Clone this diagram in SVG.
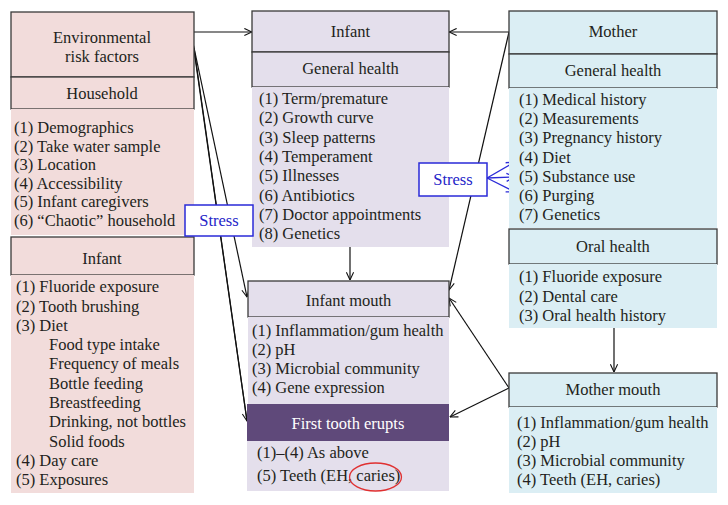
<svg xmlns="http://www.w3.org/2000/svg" width="728" height="505" viewBox="0 0 728 505">
<defs>
<marker id="ah" viewBox="0 0 10 10" refX="9.5" refY="5" markerWidth="9" markerHeight="9" markerUnits="userSpaceOnUse" orient="auto"><path d="M1,1 L9.5,5 L1,9" fill="none" stroke="#111" stroke-width="1.2"/></marker>
<marker id="ahb" viewBox="0 0 10 10" refX="9.5" refY="5" markerWidth="10" markerHeight="10" markerUnits="userSpaceOnUse" orient="auto"><path d="M1,1 L9.5,5 L1,9" fill="none" stroke="#2a2ad8" stroke-width="1.3"/></marker>
<style>
text{font-size:16.5px;fill:#231f20}
.c{text-anchor:middle}
.hdr{stroke:#3a3a3a;stroke-width:1.3}
.pink{fill:#f2dcdb}
.lilac{fill:#e4dfec}
.blue{fill:#dbeef4}
.purple{fill:#5f497a}
.conn{stroke:#111;stroke-width:1.2;fill:none;marker-end:url(#ah)}
.plain{stroke:#111;stroke-width:1.2;fill:none}
.sconn{stroke:#2a2ad8;stroke-width:1.3;fill:none;marker-end:url(#ahb)}
.srect{fill:#fff;stroke:#2a2ad8;stroke-width:1.5}
.stxt{fill:#2525c8}
.white{fill:#fff}
</style>
</defs>
<g font-family="'Liberation Serif', 'DejaVu Serif', serif">
<g id="connectors">
<line class="conn" x1="194" y1="32" x2="252" y2="32"/>
<line class="conn" x1="509" y1="32" x2="449" y2="32"/>
<line class="conn" x1="509" y1="32" x2="449" y2="290"/>
<line class="conn" x1="350" y1="247" x2="350" y2="280"/>
<line class="conn" x1="614" y1="328" x2="614" y2="372"/>
<line class="conn" x1="509" y1="388" x2="449" y2="298"/>
<line class="conn" x1="509" y1="388" x2="450" y2="417"/>
<line class="conn" x1="193" y1="43" x2="247" y2="297"/>
<line class="conn" x1="193" y1="43" x2="247" y2="421"/>
<line class="plain" x1="194" y1="48" x2="247" y2="421"/>
<line class="sconn" x1="185" y1="221" x2="172" y2="221"/>
<line class="sconn" x1="487" y1="178" x2="515" y2="162"/>
<line class="sconn" x1="487" y1="178" x2="515" y2="177"/>
<line class="sconn" x1="487" y1="178" x2="515" y2="192"/>
</g>
<g id="env">
<rect class="pink hdr" x="11" y="12" width="183" height="65"/>
<text class="c" x="102" y="43">Environmental</text>
<text class="c" x="102" y="62">risk factors</text>
</g>
<g id="household">
<rect class="pink hdr" x="11" y="77" width="183" height="32"/>
<text class="c" x="102" y="99">Household</text>
<rect class="pink" x="11" y="109" width="183" height="126"/>
<text x="14" y="133">(1) Demographics</text>
<text x="14" y="151.6">(2) Take water sample</text>
<text x="14" y="170.2">(3) Location</text>
<text x="14" y="188.8">(4) Accessibility</text>
<text x="14" y="207.4">(5) Infant caregivers</text>
<text x="14" y="226">(6) “Chaotic” household</text>
</g>
<g id="infant-env">
<rect class="pink hdr" x="11" y="237" width="183" height="38"/>
<text class="c" x="102" y="264">Infant</text>
<rect class="pink" x="11" y="275" width="183" height="218"/>
<text x="16" y="292.3">(1) Fluoride exposure</text>
<text x="16" y="311.6">(2) Tooth brushing</text>
<text x="16" y="330.8">(3) Diet</text>
<text x="49" y="350.1">Food type intake</text>
<text x="49" y="369.4">Frequency of meals</text>
<text x="49" y="388.7">Bottle feeding</text>
<text x="49" y="407.9">Breastfeeding</text>
<text x="49" y="427.2">Drinking, not bottles</text>
<text x="49" y="446.5">Solid foods</text>
<text x="16" y="465.8">(4) Day care</text>
<text x="16" y="485">(5) Exposures</text>
</g>
<g id="infant">
<rect class="lilac hdr" x="252" y="11" width="197" height="41"/>
<text class="c" x="350.5" y="37">Infant</text>
<rect class="lilac hdr" x="252" y="52" width="197" height="35"/>
<text class="c" x="350.5" y="74">General health</text>
<rect class="lilac" x="252" y="87" width="197" height="160"/>
<text x="259" y="104">(1) Term/premature</text>
<text x="259" y="123.3">(2) Growth curve</text>
<text x="259" y="142.6">(3) Sleep patterns</text>
<text x="259" y="161.9">(4) Temperament</text>
<text x="259" y="181.2">(5) Illnesses</text>
<text x="259" y="200.5">(6) Antibiotics</text>
<text x="259" y="219.8">(7) Doctor appointments</text>
<text x="259" y="239.1">(8) Genetics</text>
</g>
<g id="infant-mouth">
<rect class="lilac hdr" x="248" y="281" width="201" height="36"/>
<text class="c" x="348.5" y="306">Infant mouth</text>
<rect class="lilac" x="248" y="317" width="201" height="87"/>
<text x="252" y="336">(1) Inflammation/gum health</text>
<text x="252" y="355">(2) pH</text>
<text x="252" y="374">(3) Microbial community</text>
<text x="252" y="393">(4) Gene expression</text>
</g>
<g id="first-tooth">
<rect class="purple" x="247" y="404" width="202" height="37"/>
<text class="c white" x="348" y="429">First tooth erupts</text>
<rect class="lilac" x="247" y="441" width="202" height="50"/>
<text x="257" y="458">(1)–(4) As above</text>
<text x="257" y="481">(5) Teeth (EH, caries)</text>
<ellipse cx="375.5" cy="477" rx="26" ry="14" fill="none" stroke="#e03030" stroke-width="1.3"/>
</g>
<g id="mother">
<rect class="blue hdr" x="509" y="11" width="208" height="43"/>
<text class="c" x="613" y="37">Mother</text>
<rect class="blue hdr" x="509" y="54" width="208" height="34"/>
<text class="c" x="613" y="76">General health</text>
<rect class="blue" x="509" y="88" width="208" height="140"/>
<text x="519" y="105">(1) Medical history</text>
<text x="519" y="124.2">(2) Measurements</text>
<text x="519" y="143.4">(3) Pregnancy history</text>
<text x="519" y="162.6">(4) Diet</text>
<text x="519" y="181.8">(5) Substance use</text>
<text x="519" y="201">(6) Purging</text>
<text x="519" y="220.2">(7) Genetics</text>
</g>
<g id="oral-health">
<rect class="blue hdr" x="509" y="229" width="208" height="35"/>
<text class="c" x="613" y="252">Oral health</text>
<rect class="blue" x="509" y="264" width="208" height="64"/>
<text x="519" y="282">(1) Fluoride exposure</text>
<text x="519" y="301.5">(2) Dental care</text>
<text x="519" y="321">(3) Oral health history</text>
</g>
<g id="mother-mouth">
<rect class="blue hdr" x="509" y="373" width="208" height="34"/>
<text class="c" x="613" y="395">Mother mouth</text>
<rect class="blue" x="509" y="407" width="208" height="86"/>
<text x="517" y="427.5">(1) Inflammation/gum health</text>
<text x="517" y="446.5">(2) pH</text>
<text x="517" y="465.5">(3) Microbial community</text>
<text x="517" y="484.5">(4) Teeth (EH, caries)</text>
</g>
<g id="stress-left">
<rect class="srect" x="185" y="205" width="68" height="31"/>
<text class="c stxt" x="219" y="226">Stress</text>
</g>
<g id="stress-right">
<rect class="srect" x="419" y="163" width="68" height="33"/>
<text class="c stxt" x="453" y="185">Stress</text>
</g>
</g>
</svg>
